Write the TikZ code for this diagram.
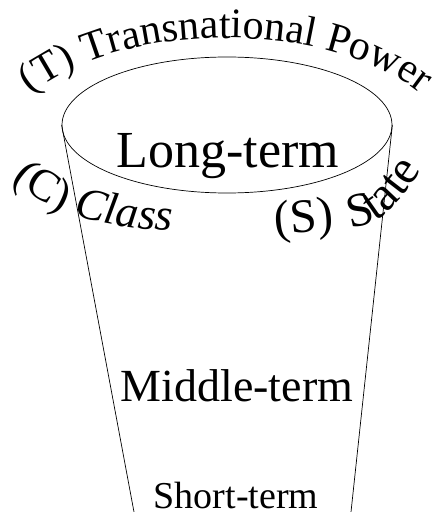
\documentclass[tikz,border=0pt]{standalone}
\usepackage{fontspec}
\setmainfont{Liberation Serif}
\usetikzlibrary{shapes.geometric,decorations.text}

\begin{document}
\begin{tikzpicture}[x=1pt, y=1pt, line width=0.7pt,
  term/.style={anchor=base, inner sep=0pt}]
\useasboundingbox (0,0) rectangle (438,512);
% the cup
\node[draw, ellipse, minimum width=330pt, minimum height=136pt, inner sep=0pt] (rim) at (227,387) {};
\coordinate (bl) at (134,0);
\coordinate (br) at (351,0);
\draw (rim.west) -- (bl);
\draw (rim.east) -- (br);
% levels
\node[term, font=\fontsize{52}{52}\selectfont] (long) at (228,344) {Long-term};
\node[term, font=\fontsize{46}{46}\selectfont] (middle) at (237,110) {Middle-term};
\node[term, font=\fontsize{38}{38}\selectfont] (short) at (236,4) {Short-term};
% curved labels
\path[decorate, decoration={text along path, text align=center,
  text={|\fontsize{42}{42}\selectfont|(T) Transnational Power}}]
  (-6,352) arc[start angle=180, end angle=0, x radius=232, y radius=122];
\path[decorate, decoration={text along path, text align=left,
  text={|\fontsize{45}{45}\selectfont|(C) |\fontsize{45}{45}\selectfont\itshape|Class}}]
  (12,332) .. controls (50,300) and (90,283) .. (200,280);
\node[term, rotate=5, font=\fontsize{48}{48}\selectfont] (s) at (305,280) {(S)};
\path[decorate, decoration={text along path, text align=left,
  text={|\fontsize{48}{48}\selectfont|State}}]
  (350,285) .. controls (380,286) and (398,300) .. (446,382);
\end{tikzpicture}
\end{document}
